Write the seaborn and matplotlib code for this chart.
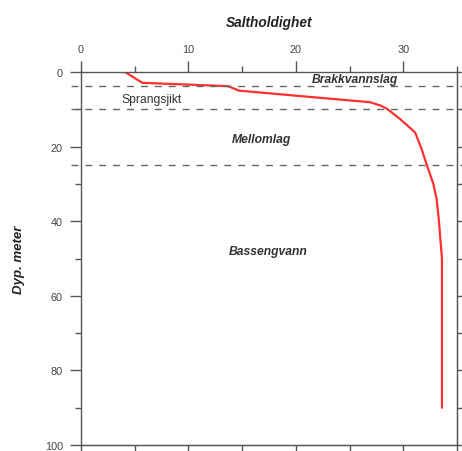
import matplotlib
matplotlib.use("Agg")
import matplotlib.pyplot as plt
import seaborn as sns
import pandas as pd
from matplotlib.ticker import MultipleLocator

# Data
depth = [0, 2.9, 3.8, 5.0, 8.1, 9.0, 9.9, 12.6, 16.2, 20.6, 25.0, 30.0, 34.0, 39.4, 50.0, 90.0]
salinity = [4.1, 5.7, 13.7, 14.7, 26.9, 27.9, 28.5, 29.7, 31.1, 31.7, 32.2, 32.8, 33.1, 33.3, 33.6, 33.6]
layer_bounds = [3.7, 9.9, 25.0]
layer_names = ["Brakkvannslag", "Sprangsjikt", "Mellomlag", "Bassengvann"]
layer_label_pos = [(25.5, 1.9), (6.6, 7.3), (16.8, 18.0), (17.4, 48.0)]
layer_bold = [True, False, True, True]
x_title = "Saltholdighet"
y_title = "Dyp. meter"

sns.set_style("ticks")
plt.rcParams["font.family"] = ["Liberation Sans", "DejaVu Sans"]

df = pd.DataFrame({"depth": depth, "salinity": salinity})

fig = plt.figure(figsize=(4.62, 4.52), dpi=100)
ax = fig.add_axes([81 / 462, 1 - 446 / 452, 376 / 462, 373 / 452])

sns.lineplot(data=df, x="salinity", y="depth", sort=False, estimator=None,
             color="#ff3030", linewidth=1.6, ax=ax)

for b in layer_bounds:
    ax.plot([-0.9, 35.6], [b, b], color="#666666", linewidth=1.0,
            dashes=(5, 5), clip_on=False)

for name, (xx, yy), bold in zip(layer_names, layer_label_pos, layer_bold):
    ax.text(xx, yy, name, ha="center", va="center", fontsize=8.7,
            fontweight="bold" if bold else "normal",
            fontstyle="italic" if bold else "normal", color="#333333")

ax.set_xlim(0, 35)
ax.set_ylim(100, 0)

spine_c = "#555555"
for s in ax.spines.values():
    s.set_visible(True)
    s.set_color(spine_c)
    s.set_linewidth(1.0)

ax.xaxis.tick_top()
ax.xaxis.set_label_position("top")
ax.xaxis.set_major_locator(MultipleLocator(10))
ax.xaxis.set_minor_locator(MultipleLocator(5))
ax.yaxis.set_major_locator(MultipleLocator(20))
ax.yaxis.set_minor_locator(MultipleLocator(10))
ax.tick_params(which="major", direction="out", length=8, width=1.0,
               color=spine_c, labelsize=7.8, labelcolor="#444444", pad=5)
ax.tick_params(which="minor", direction="out", length=4, width=1.0, color=spine_c)
ax.tick_params(axis="x", which="both", top=True, bottom=False)
ax.tick_params(axis="y", which="both", left=True, right=False)

ax.set_xlabel(x_title, fontsize=9.8, fontweight="bold", fontstyle="italic",
              color="#222222", labelpad=13)
ax.set_ylabel(y_title, fontsize=9.5, fontweight="bold", fontstyle="italic",
              color="#222222", labelpad=14)

secx = ax.secondary_xaxis("bottom")
secx.xaxis.set_major_locator(MultipleLocator(5))
secx.tick_params(direction="out", length=6, width=1.0, color=spine_c,
                 labelbottom=False)
secx.spines["bottom"].set_color(spine_c)

secy = ax.secondary_yaxis("right")
secy.yaxis.set_major_locator(MultipleLocator(10))
secy.tick_params(direction="out", length=6, width=1.0, color=spine_c,
                 labelright=False)
secy.spines["right"].set_color(spine_c)

fig.savefig("out.png", dpi=100)
